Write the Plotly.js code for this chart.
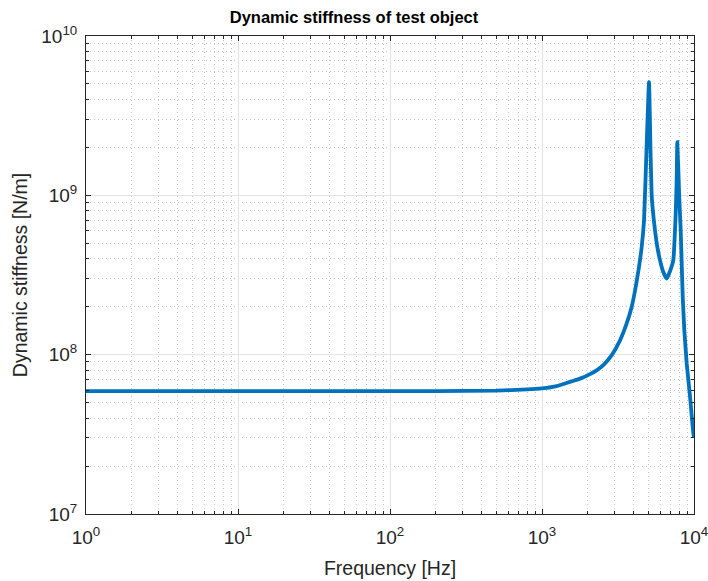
<!DOCTYPE html>
<html>
<head>
<meta charset="utf-8">
<script src="https://cdn.plot.ly/plotly-3.0.1.min.js"></script>
<style>html,body{margin:0;padding:0;background:#fff;}#chart{width:708px;height:581px;}</style>
</head>
<body>
<div id="chart"></div>
<script>
// Frequency [Hz] and dynamic stiffness [N/m]
const frequency = [1, 2, 5, 10, 20, 50, 100, 200, 500, 800, 1000, 1250, 1528, 1800, 2069, 2300, 2531, 2875, 3261, 3606, 3892, 4134, 4346, 4528, 4690, 4868, 5058, 5175, 5268, 5400, 5538, 5755, 5975, 6252, 6614, 6950, 7308, 7578, 7691, 7766, 7996, 8177, 8300, 8430, 8635, 8955, 9420, 9900, 10000];
const stiffness = [5.9e7, 5.9e7, 5.9e7, 5.9e7, 5.9e7, 5.9e7, 5.9e7, 5.91e7, 5.95e7, 6.05e7, 6.15e7, 6.35e7, 6.75e7, 7.1e7, 7.55e7, 8.0e7, 8.59e7, 9.93e7, 1.23e8, 1.57e8, 2.0e8, 2.66e8, 3.55e8, 4.75e8, 6.97e8, 1.91e9, 5.13e9, 1.91e9, 1.0e9, 7.5e8, 6.03e8, 4.66e8, 3.91e8, 3.34e8, 3.0e8, 3.34e8, 3.91e8, 7.67e8, 1.24e9, 2.16e9, 9.75e8, 6.03e8, 3.73e8, 2.3e8, 1.43e8, 8.8e7, 5.43e7, 3.2e7, 3.05e7];
const xTickVals = [1, 10, 100, 1000, 10000];
const xTickText = ['10<sup>0</sup>', '10<sup>1</sup>', '10<sup>2</sup>', '10<sup>3</sup>', '10<sup>4</sup>'];
const yTickVals = [1e7, 1e8, 1e9, 1e10];
const yTickText = ['10<sup>7</sup>', '10<sup>8</sup>', '10<sup>9</sup>', '10<sup>10</sup>'];

const font = 'Liberation Sans, Arial, sans-serif';
const axisCommon = {
  type: 'log',
  showline: true, linecolor: '#262626', linewidth: 1, mirror: 'ticks',
  ticks: 'inside', ticklen: 5, tickcolor: '#262626', tickwidth: 1,
  showgrid: true, gridcolor: '#e3e3e3', gridwidth: 1,
  zeroline: false, ticklabeloverflow: 'allow',
  tickfont: {family: font, size: 19, color: '#262626'},
  minor: {dtick: 'D1', ticks: 'inside', ticklen: 3, tickcolor: '#262626',
          showgrid: true, gridcolor: '#c4c4c4', griddash: '1px,3px', gridwidth: 1}
};

const trace = {
  x: frequency, y: stiffness, type: 'scatter', mode: 'lines',
  line: {color: '#0072BD', width: 3.8, shape: 'spline', smoothing: 0.4}, hoverinfo: 'skip'
};

const layout = {
  width: 708, height: 581,
  margin: {l: 86, r: 14, t: 36, b: 67},
  paper_bgcolor: '#fff', plot_bgcolor: '#fff',
  showlegend: false,
  title: {text: '<b>Dynamic stiffness of test object</b>', font: {family: font, size: 16.5, color: '#000'},
          x: 0.5, xref: 'container', xanchor: 'center', y: 0.97, yanchor: 'middle'},
  xaxis: Object.assign({}, axisCommon, {
    range: [0, 4], tickvals: xTickVals, ticktext: xTickText, ticklabelstandoff: 6,
    title: {text: 'Frequency [Hz]', font: {family: font, size: 19.5, color: '#262626'}, standoff: 14}
  }),
  yaxis: Object.assign({}, axisCommon, {
    range: [7, 10], tickvals: yTickVals, ticktext: yTickText, ticklabelstandoff: 4,
    title: {text: 'Dynamic stiffness [N/m]', font: {family: font, size: 19.5, color: '#262626'}, standoff: 8}
  })
};

Plotly.newPlot('chart', [trace], layout, {staticPlot: true, displayModeBar: false});
</script>
</body>
</html>
